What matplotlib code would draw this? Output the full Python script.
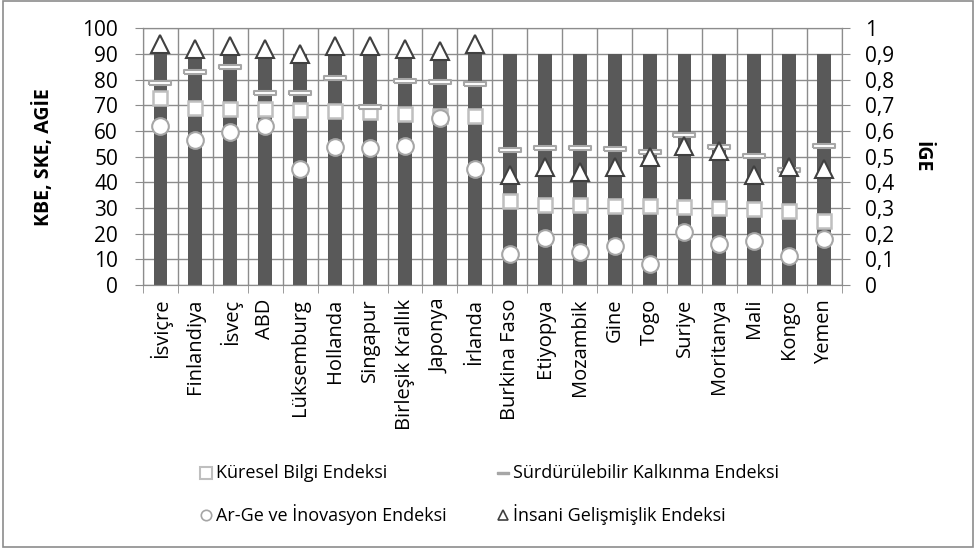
import matplotlib
matplotlib.use("Agg")
import matplotlib.pyplot as plt
from matplotlib.lines import Line2D
from matplotlib.patches import Rectangle
from matplotlib.ticker import FuncFormatter

plt.rcParams['font.family'] = ['Open Sans', 'DejaVu Sans']

countries = ['İsviçre', 'Finlandiya', 'İsveç', 'ABD', 'Lüksemburg', 'Hollanda',
             'Singapur', 'Birleşik Krallık', 'Japonya', 'İrlanda', 'Burkina Faso',
             'Etiyopya', 'Mozambik', 'Gine', 'Togo', 'Suriye', 'Moritanya', 'Mali',
             'Kongo', 'Yemen']

# dark column behind every country (reaches 90 everywhere)
column_top = [90, 90, 90, 90, 90, 90, 90, 90, 90, 90,
              90, 90, 90, 90, 90, 90, 90, 90, 90, 90]

kbe = [72.7, 68.8, 68.4, 68.4, 68.2, 67.9, 67.5, 66.5, 66.0, 65.8,
       32.6, 31.3, 31.3, 30.6, 30.6, 30.2, 29.9, 29.7, 28.8, 25.0]
ske = [78.8, 82.9, 85.0, 74.7, 74.9, 80.5, 69.5, 79.5, 79.0, 78.4,
       52.7, 53.4, 53.4, 53.0, 51.8, 58.3, 53.6, 50.4, 44.9, 54.0]
agie = [61.9, 56.5, 59.7, 61.9, 45.0, 53.9, 53.2, 54.3, 64.9, 45.3,
        12.1, 18.2, 13.0, 15.2, 8.1, 20.8, 15.9, 17.2, 11.3, 17.8]
ige = [0.94, 0.92, 0.93, 0.92, 0.90, 0.93, 0.93, 0.92, 0.91, 0.94,
       0.43, 0.46, 0.44, 0.46, 0.50, 0.54, 0.52, 0.43, 0.46, 0.45]

legend_labels = ['Küresel Bilgi Endeksi', 'Sürdürülebilir Kalkınma Endeksi',
                 'Ar-Ge ve İnovasyon Endeksi', 'İnsani Gelişmişlik Endeksi']

x = list(range(len(countries)))
grid_c = '#8c8c8c'

fig = plt.figure(figsize=(9.77, 5.49), dpi=100)
ax = fig.add_axes([0.1464, 0.4809, 0.7151, 0.4676])

ax.bar(x, column_top, width=0.4, color='#595959', zorder=2)

dash = [(-1, -0.22), (1, -0.22), (1, 0.22), (-1, 0.22), (-1, -0.22)]
ax.plot(x, kbe, ls='none', marker='s', ms=9.4, mfc='white', mec='#bfbfbf', mew=1.8, zorder=3)
ax.plot(x, ske, ls='none', marker=dash, ms=16, mfc='white', mec='#a6a6a6', mew=1.5, zorder=4)
ax.plot(x, agie, ls='none', marker='o', ms=12, mfc='white', mec='#a6a6a6', mew=1.5, zorder=5)

ax.set_xlim(-0.5, len(countries) - 0.5)
ax.set_ylim(0, 100)
ax.set_yticks(range(0, 101, 10))
ax.set_xticks(x)
ax.set_xticklabels(countries, rotation=90, fontsize=14.5)
ax.set_xticks([i - 0.5 for i in range(len(countries) + 1)], minor=True)
ax.tick_params(axis='x', which='major', length=0, pad=10)
ax.tick_params(axis='x', which='minor', length=6, color=grid_c)
ax.tick_params(axis='y', length=6, color=grid_c, labelsize=15, pad=12)
ax.grid(axis='y', color=grid_c, lw=1, zorder=0)
ax.grid(axis='x', which='minor', color=grid_c, lw=1, zorder=0)
ax.set_axisbelow(True)
for s in ax.spines.values():
    s.set_color(grid_c)
ax.set_ylabel('KBE, SKE, AGİE', fontsize=14, fontweight='bold')
ax.yaxis.set_label_coords(-0.127, 0.5)

ax2 = ax.twinx()
ax2.plot(x, ige, ls='none', marker='^', ms=13, mfc='white', mec='#404040', mew=1.5, zorder=6)
ax2.set_ylim(0, 1)
ax2.set_yticks([i / 10 for i in range(11)])
ax2.yaxis.set_major_formatter(FuncFormatter(lambda v, p: ('%g' % round(v, 1)).replace('.', ',')))
ax2.tick_params(axis='y', length=6, color=grid_c, labelsize=15, pad=11)
for s in ax2.spines.values():
    s.set_color(grid_c)
ax2.set_ylabel('İGE', fontsize=14, fontweight='bold', rotation=-90, va='center')
ax2.yaxis.set_label_coords(1.1135, 0.5)

# legend drawn by hand: two columns, two rows under the plot
def px(xp, yp):
    return xp / 977, (549 - yp) / 549

legend_marks = [
    dict(marker='s', ms=8, mfc='white', mec='#bfbfbf', mew=1.5),
    dict(marker=dash, ms=8, mfc='#a6a6a6', mec='#a6a6a6', mew=1),
    dict(marker='o', ms=7.5, mfc='white', mec='#a6a6a6', mew=1.2),
    dict(marker='^', ms=7.5, mfc='white', mec='#404040', mew=1.2),
]
col_x = [206, 503]
row_y = [473, 515]
for i, (lab, mk) in enumerate(zip(legend_labels, legend_marks)):
    mx, my = px(col_x[i % 2], row_y[i // 2])
    fig.add_artist(Line2D([mx], [my], ls='none', transform=fig.transFigure, **mk))
    tx, ty = px(col_x[i % 2] + 10, row_y[i // 2])
    fig.text(tx, ty, lab, fontsize=13, va='center', ha='left')

fig.patches.append(Rectangle((0.0031, 0.0036), 0.9928, 0.9945, transform=fig.transFigure,
                             fill=False, edgecolor='#8c8c8c', lw=1.2))

fig.savefig('out.png', dpi=100)
